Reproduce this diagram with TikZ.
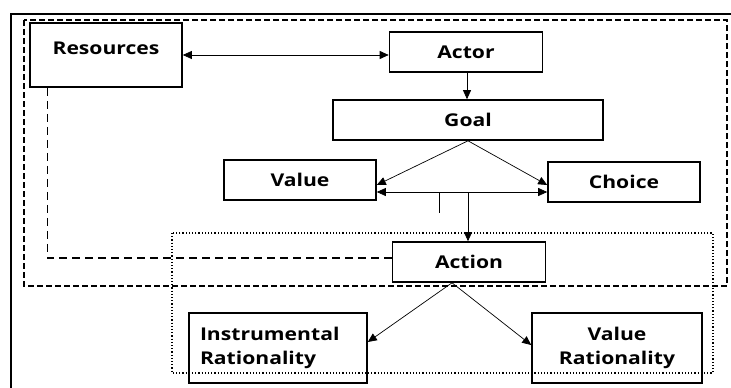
\documentclass[tikz,border=0pt]{standalone}
\usepackage{fontspec}
\setmainfont[FakeStretch=1.2]{Open Sans}
\usetikzlibrary{arrows.meta,calc}

\tikzset{
  box/.style={draw,line width=1.6pt,inner sep=4pt,font=\bfseries\fontsize{17.6}{24}\selectfont},
  link/.style={line width=0.7pt,-{Triangle[length=9pt,width=8pt]}},
  both/.style={line width=0.7pt,{Triangle[length=9pt,width=8pt]}-{Triangle[length=9pt,width=8pt]}},
}

\begin{document}
\begin{tikzpicture}[x=1pt,y=-1pt]
         \useasboundingbox (0,0) rectangle (731,388);
         %\draw[very thin,gray,step=10] (0,0) grid (731,388) ;
         \draw[line width=1.6pt] (11,388) -- (11,14) -- (731,14) ;
         \draw[line width=1.4pt,dashed,dash pattern=on 6pt off 3pt] (24,20) rectangle (727,286) ;
         \draw[line width=1.2pt,dotted] (172,233) rectangle (713,373) ;
         % boxes
         \node[box,minimum width=152,minimum height=64,text height=25pt,text depth=27pt]
              (res) at (106,55) {Resources};
         \node[box,minimum width=153,minimum height=40] (actor) at (466,52) {Actor};
         \node[box,minimum width=270,minimum height=40] (goal) at (468,120) {Goal};
         \node[box,minimum width=152,minimum height=40] (value) at (300,180) {Value};
         \node[box,minimum width=152,minimum height=40] (choice) at (624,182) {Choice};
         \node[box,minimum width=153,minimum height=40] (action) at (469,262) {Action};
         \node[box,minimum width=178,minimum height=70,align=left,text width=156pt]
              (instr) at (278,348) {Instrumental\\Rationality};
         \node[box,minimum width=170,minimum height=70,align=center]
              (valrat) at (617,348) {Value\\Rationality};
         % connectors
         \draw[both] (res.east) -- (res.east -| actor.west) ;
         \draw[link] (actor.south -| 467,0) -- (goal.north -| 467,0) ;
         \draw[link] (goal.south) -- ([yshift=-5pt]value.east) ;
         \draw[link] (goal.south) -- ([yshift=-3pt]choice.west) ;
         \draw[both] ([yshift=-12pt]value.east) -- ([yshift=-12pt]value.east -| choice.west) ;
         \coordinate (split) at (468,192) ;
         \coordinate (tick) at (439,192) ;
         \draw[line width=0.7pt] (tick) -- ++(0,21) ;
         \draw[link] (split) -- (split |- action.north) ;
         \coordinate (fork) at ([xshift=-17pt]action.south) ;
         \draw[link] (fork) -- ([yshift=6pt]instr.east) ;
         \draw[link] (fork) -- ([yshift=3pt]valrat.west) ;
         \draw[line width=1.1pt,dashed,dash pattern=on 8pt off 5pt]
              ([xshift=18pt]res.south west) |- ([yshift=4pt]action.west) ;
\end{tikzpicture}
\end{document}
